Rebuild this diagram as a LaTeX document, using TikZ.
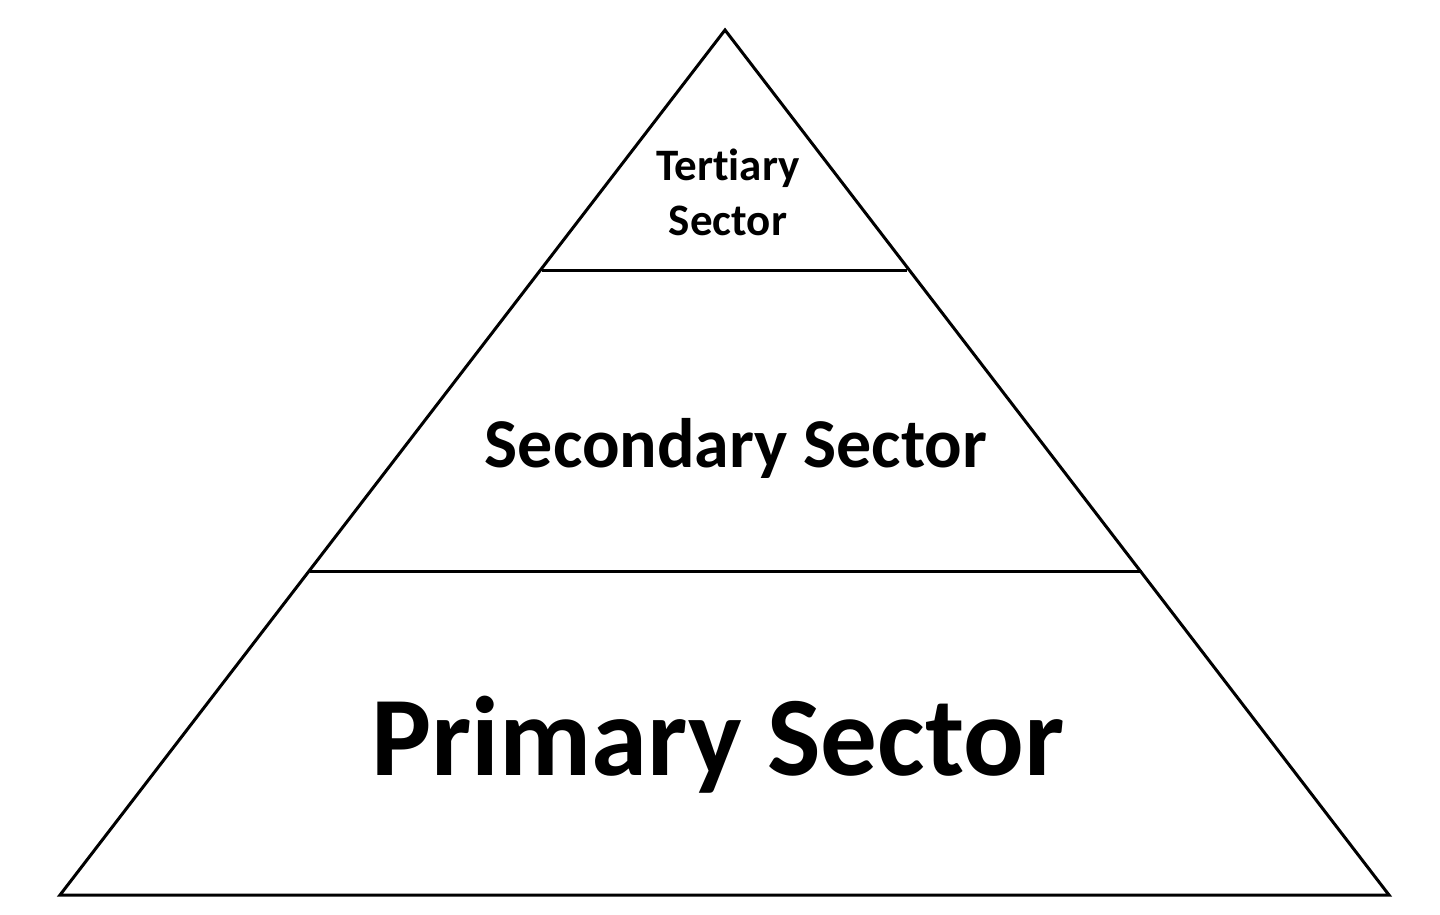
\documentclass[tikz,border=0pt]{standalone}
\usepackage{fontspec}
\setmainfont{Carlito}[Ligatures = NoCommon]
\usepackage{tikz}

\begin{document}
\begin{tikzpicture}[x = .5pt, y = -.5pt, line width = 1.5pt]
        \useasboundingbox (0,0) rectangle (1440,915);
        \coordinate (top) at (725,30);
        \coordinate (bl) at (60,895);
        \coordinate (br) at (1389,895);
        \coordinate (tl) at (542,270);
        \coordinate (tr) at (907,270);
        \coordinate (sl) at (310,571);
        \coordinate (sr) at (1142,571);

        \draw[line join = miter] (bl) -- (top) -- (br) -- cycle;
        \draw (tl) -- (tr);
        \draw (sl) -- (sr);

        \node[anchor = base, align = center,
              font = \fontsize{22.5}{27.5}\selectfont\bfseries]
              (tert) at (728,235) {Tertiary\\Sector};
        \node[anchor = base, font = \fontsize{35}{42}\selectfont\bfseries]
              (sec) at (736,467) {Secondary Sector};
        \node[anchor = base, font = \fontsize{56.6}{68}\selectfont\bfseries]
              (prim) at (718,775) {Primary Sector};
      \end{tikzpicture}
\end{document}
